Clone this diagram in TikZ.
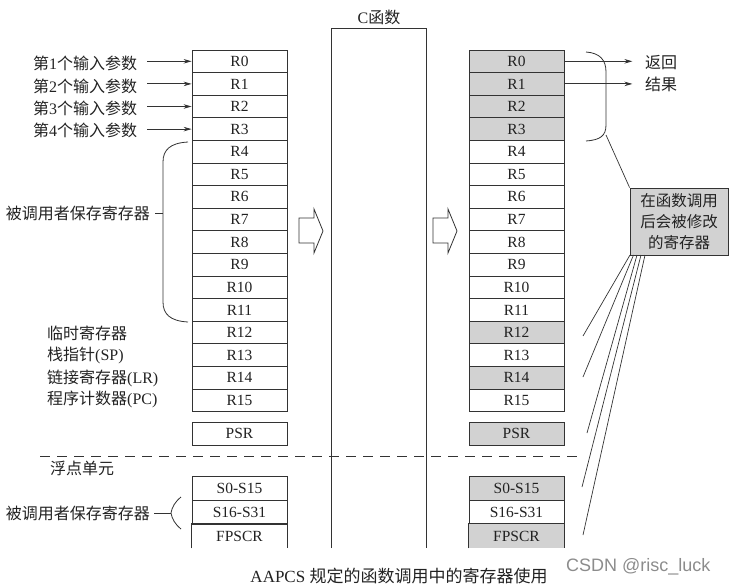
\documentclass[tikz,border=0pt]{standalone}
\usepackage{fontspec}
\setmainfont{Liberation Serif}
\newfontfamily\cjk{Noto Sans CJK SC}
\newfontfamily\wmfont{Liberation Sans}
\usetikzlibrary{arrows.meta,calc}
\newcommand\zh[1]{{\cjk #1}}
\definecolor{linec}{HTML}{333333}
\definecolor{shade}{HTML}{D2D2D2}
\definecolor{textc}{HTML}{222222}
\tikzset{
  reg/.style={draw=linec, line width=0.8pt, minimum width=95pt, minimum height=22.6pt,
    inner sep=0pt, text=textc, font=\fontsize{15.5}{15.5}\selectfont},
  sreg/.style={reg, fill=shade},
  plain/.style={reg, draw=none},
  lab/.style={inner sep=0pt, text=textc, font=\fontsize{16}{18}\selectfont},
  conn/.style={draw=linec, line width=0.8pt},
  arr/.style={conn, -{Stealth[length=8pt,width=4.5pt]}},
  thin/.style={draw=linec, line width=0.7pt},
  blockarrow/.style={draw=linec, line width=0.8pt, fill=white, line join=miter}
}
\begin{document}
\begin{tikzpicture}[x=1pt,y=-1pt]
\useasboundingbox (0,0) rectangle (731,586);

% left register column
\foreach \i in {0,...,15}
  \node[reg] (L\i) at (239.5,{50+22.6*(\i+0.5)}) {R\i};
\node[reg, minimum height=23pt] (LPSR) at (239.5,433.5) {PSR};

% right register column
\foreach \i/\st in {0/sreg,1/sreg,2/sreg,3/sreg,4/reg,5/reg,6/reg,7/reg,8/reg,9/reg,10/reg,11/reg,12/sreg,13/reg,14/sreg,15/reg}
  \node[\st] (R\i) at (516.5,{50+22.6*(\i+0.5)}) {R\i};
\node[sreg, minimum height=23pt] (RPSR) at (516.5,433.5) {PSR};

% C function box
\node (cfun) [minimum width=94pt, minimum height=519pt, inner sep=0pt] at (379,288.5) {};
\draw[conn] (cfun.south west) -- (cfun.north west) -- (cfun.north east) -- (cfun.south east);
\node[lab] (ctitle) at (379,17) {C\zh{函数}};

% block arrows
\draw[blockarrow] (299,218) -- (314,218) -- (314,209) -- (323,231) -- (314,253) -- (314,243) -- (299,243) -- cycle;
\draw[blockarrow] (433,218) -- (448,218) -- (448,209) -- (457,231) -- (448,253) -- (448,243) -- (433,243) -- cycle;

% input parameters
\node[lab, anchor=west] (p1) at (33,63) {\zh{第}1\zh{个输入参数}};
\node[lab, anchor=west] (p2) at (33,86) {\zh{第}2\zh{个输入参数}};
\node[lab, anchor=west] (p3) at (33,108) {\zh{第}3\zh{个输入参数}};
\node[lab, anchor=west] (p4) at (33,130) {\zh{第}4\zh{个输入参数}};
\draw[arr] (p1.east |- L0.west) ++(10,0) -- (L0.west);
\draw[arr] (p2.east |- L1.west) ++(10,0) -- (L1.west);
\draw[arr] (p3.east |- L2.west) ++(10,0) -- (L2.west);
\draw[arr] (p4.east |- L3.west) ++(10,0) -- (L3.west);

% callee-saved brace (left)
\node[lab, anchor=east] (callee) at (150,213) {\zh{被调用者保存寄存器}};
\coordinate (lbt) at (188,142);
\coordinate (lbb) at (188,322);
\coordinate (lbm) at (163,213);
\draw[conn] (lbt) .. controls (170,143) and (163,150) .. (163,162) -- (163,302)
  .. controls (163,314) and (170,321) .. (lbb);
\draw[conn] ([xshift=5pt]callee.east) -- (lbm);

% lower left labels
\node[lab, anchor=west] (tmp) at (47,333) {\zh{临时寄存器}};
\node[lab, anchor=west] (sp) at (47,355) {\zh{栈指针}(SP)};
\node[lab, anchor=west] (lr) at (47,378) {\zh{链接寄存器}(LR)};
\node[lab, anchor=west] (pc) at (47,399) {\zh{程序计数器}(PC)};

% dashed separator
\coordinate (dl) at (40,456);
\coordinate (dr) at (583,456);
\draw[conn, dash pattern=on 10pt off 7pt] (dl) -- (dr);
\node[lab, anchor=west] (fpu) at (50,468) {\zh{浮点单元}};

% floating point registers left
\node[reg, minimum height=24pt] (LS0) at (239.5,488) {S0-S15};
\node[reg, minimum height=24pt] (LS16) at (239.5,512) {S16-S31};
\node[plain, minimum height=24pt] (LFP) at (239.5,536) {FPSCR};
\draw[conn] (LFP.south west) -- (LFP.north west) -- (LFP.north east) -- (LFP.south east);

% floating point registers right
\node[sreg, minimum height=24pt] (RS0) at (516.5,488) {S0-S15};
\node[reg, minimum height=24pt] (RS16) at (516.5,512) {S16-S31};
\node[plain, minimum height=24pt, fill=shade] (RFP) at (516.5,536) {FPSCR};
\draw[conn] (RFP.south west) -- (RFP.north west) -- (RFP.north east) -- (RFP.south east);

% small brace for floating callee-saved
\node[lab, anchor=east] (callee2) at (150,513) {\zh{被调用者保存寄存器}};
\coordinate (sbm) at (171,513);
\draw[conn] (181,497) .. controls (175,502) and (172,507) .. (sbm) .. controls (172,519) and (175,524) .. (181,529);
\draw[conn] ([xshift=4pt]callee2.east) -- (sbm);

% return values
\node[lab, anchor=west] (ret1) at (645,63) {\zh{返回}};
\node[lab, anchor=west] (ret2) at (645,84) {\zh{结果}};
\draw[arr] (R0.east) -- ++(68,0) coordinate (ra0);
\draw[arr] (R1.east) -- ++(68,0) coordinate (ra1);

% right brace R0-R3
\coordinate (rbt) at (586,52);
\coordinate (rbb) at (586,141);
\coordinate (rbp) at (606,135);
\draw[conn] (rbt) .. controls (600,53) and (606,60) .. (606,72) -- (606,125)
  .. controls (606,136) and (600,140) .. (rbb);

% callout
\node[draw=linec, line width=0.8pt, fill=shade, minimum width=98pt, minimum height=67pt,
  inner sep=0pt, align=center, text=textc, font=\cjk\fontsize{15.5}{21}\selectfont] (call) at (679,221.5)
  {在函数调用\\后会被修改\\的寄存器};
\draw[thin] (rbp) -- (call.north west);

% lines from callout to modified registers
\coordinate (c1) at (630,255);
\coordinate (c2) at (633.5,255);
\coordinate (c3) at (637,255);
\coordinate (c4) at (641,255);
\coordinate (c5) at (645,255);
\coordinate (t1) at (583,336);
\coordinate (t2) at (583,377);
\coordinate (t3) at (587,433);
\coordinate (t4) at (582,487);
\coordinate (t5) at (583,535);
\draw[thin] (c1) -- (t1);
\draw[thin] (c2) -- (t2);
\draw[thin] (c3) -- (t3);
\draw[thin] (c4) -- (t4);
\draw[thin] (c5) -- (t5);

% caption and watermark
\node[lab, font=\fontsize{17}{18}\selectfont] (cap) at (399,576) {AAPCS \zh{规定的函数调用中的寄存器使用}};
\node[inner sep=0pt, text=black!45, font=\wmfont\fontsize{18}{18}\selectfont, anchor=west] (wm) at (566,567) {CSDN @risc\_luck};
\end{tikzpicture}
\end{document}
